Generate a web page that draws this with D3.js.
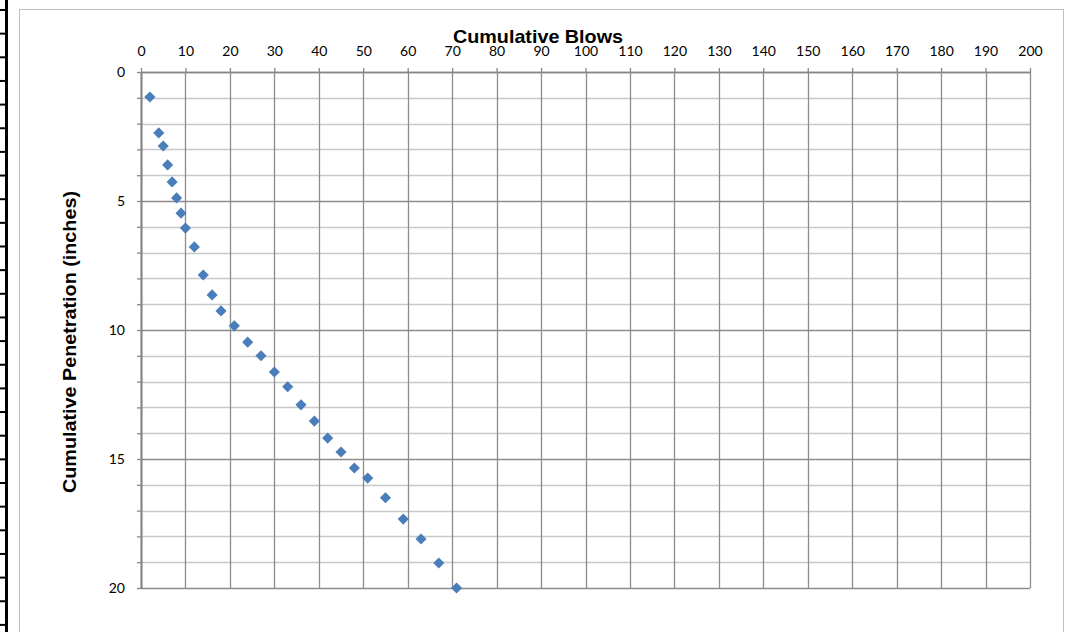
<!DOCTYPE html>
<html><head><meta charset="utf-8">
<script src="https://cdn.jsdelivr.net/npm/d3@7"></script>
<style>html,body{margin:0;padding:0;background:#fff;}svg{display:block;}</style>
</head><body>
<svg id="c" width="1078" height="632"></svg>
<script>
// Data
const blows = [2,4,5,6,7,8,9,10,12,14,16,18,21,24,27,30,33,36,39,42,45,48,51,55,59,63,67,71];
const penetration = [0.97,2.36,2.87,3.6,4.26,4.88,5.47,6.05,6.78,7.87,8.64,9.26,9.84,10.47,11.0,11.63,12.2,12.9,13.53,14.19,14.73,15.35,15.74,16.5,17.33,18.1,19.03,20.0];
const xTicks = d3.range(0, 201, 10);
const yTicks = [0,5,10,15,20];
const yMinor = d3.range(0, 21, 1);
const xTitle = "Cumulative Blows";
const yTitle = "Cumulative Penetration (inches)";

const svg = d3.select("#c");
const L = 141, R = 1030, T = 72, B = 588;
const x = d3.scaleLinear().domain([0,200]).range([L,R]);
const y = d3.scaleLinear().domain([0,20]).range([T,B]);

// left spreadsheet-like strip
const rows = d3.range(0, 27).map(i => 10 + i*23.65);
svg.append("line").attr("x1",6.5).attr("x2",6.5).attr("y1",0).attr("y2",632).attr("stroke","#000").attr("stroke-width",3);
svg.selectAll("line.row").data(rows).enter().append("line").attr("class","row")
  .attr("x1",0).attr("x2",7).attr("y1",d=>d).attr("y2",d=>d).attr("stroke","#000").attr("stroke-width",2);

// chart outer border
svg.append("rect").attr("x",19.5).attr("y",9.5).attr("width",1044).attr("height",640)
  .attr("fill","none").attr("stroke","#bfbfbf").attr("stroke-width",1);

// horizontal gridlines
svg.append("g").selectAll("line").data(yMinor).enter().append("line")
  .attr("x1",L).attr("x2",R).attr("y1",d=>Math.round(y(d))+0.5).attr("y2",d=>Math.round(y(d))+0.5)
  .attr("stroke",d=> d%5===0 ? "#8c8c8c" : "#c8c8c8").attr("stroke-width",d=> d%5===0?1.5:1.5);

// vertical gridlines
svg.append("g").selectAll("line").data(xTicks.slice(1)).enter().append("line")
  .attr("x1",d=>Math.round(x(d))+0.5).attr("x2",d=>Math.round(x(d))+0.5).attr("y1",T).attr("y2",B)
  .attr("stroke","#8c8c8c").attr("stroke-width",1.3);

// top axis
const xAxis = d3.axisTop(x).tickValues(xTicks).tickSize(4).tickSizeOuter(0).tickPadding(12);
const gx = svg.append("g").attr("transform",`translate(0,${T})`).call(xAxis);
gx.select(".domain").attr("stroke","#868686").attr("stroke-width",1.3);
gx.selectAll(".tick line").attr("stroke","#868686").attr("stroke-width",1.3);
gx.selectAll("text").attr("font-family","Lato").attr("font-size",14).attr("fill","#000");

// left axis
const yAxis = d3.axisLeft(y).tickValues(yMinor).tickSize(4).tickSizeOuter(0).tickPadding(12)
  .tickFormat(d => yTicks.includes(d) ? d : "");
const gy = svg.append("g").attr("transform",`translate(${L},0)`).call(yAxis);
gy.select(".domain").attr("stroke","#868686").attr("stroke-width",2.2);
gy.selectAll(".tick line").attr("stroke","#868686").attr("stroke-width",1.3);
gy.selectAll("text").attr("font-family","Lato").attr("font-size",14).attr("fill","#000");

// titles
svg.append("text").attr("x",538).attr("y",43).attr("text-anchor","middle")
  .attr("font-family","Liberation Sans, Arial").attr("font-weight","bold").attr("font-size",19)
  .attr("textLength",170).attr("lengthAdjust","spacingAndGlyphs").text(xTitle);
svg.append("text").attr("transform","translate(76,342) rotate(-90)").attr("text-anchor","middle")
  .attr("font-family","Liberation Sans, Arial").attr("font-weight","bold").attr("font-size",18.5)
  .attr("textLength",302).attr("lengthAdjust","spacingAndGlyphs").text(yTitle);

// markers
const sym = d3.symbol().type(d3.symbolSquare).size(62);
svg.append("g").selectAll("path").data(blows.map((b,i)=>[b,penetration[i]])).enter().append("path")
  .attr("d",sym).attr("fill","#4a7ebb")
  .attr("transform",d=>`translate(${x(d[0])},${y(d[1])}) rotate(45)`);
</script>
</body></html>
